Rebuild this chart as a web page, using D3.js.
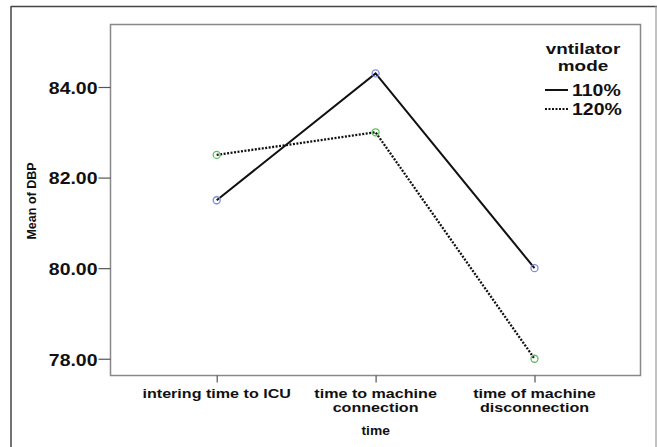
<!DOCTYPE html>
<html><head><meta charset="utf-8">
<script src="https://cdn.jsdelivr.net/npm/d3@7"></script>
<style>body{margin:0;background:#fff}svg{display:block}text{font-family:"Liberation Sans",Arial,sans-serif;font-weight:bold;fill:#111}</style>
</head><body><svg id="c" width="657" height="447"></svg>
<script>
const categories = ["intering time to ICU", "time to machine\nconnection", "time of machine\ndisconnection"];
const seriesNames = ["110%", "120%"];
const values110 = [81.5, 84.3, 80.0];
const values120 = [82.5, 83.0, 78.0];
const yTicks = [78, 80, 82, 84];

const svg = d3.select("#c");
const W = 657, H = 447;
const m = {l:110.5, t:24.5, r:640.5, b:375.5};
const SX = 1.18;

function stext(x, y, anchor, size, txt, sx) {
  return svg.append("text").attr("transform", `translate(${x},${y}) scale(${sx},1)`)
    .attr("text-anchor", anchor).style("font-size", size + "px").text(txt);
}

// outer frame
svg.append("line").attr("x1",11).attr("x2",11).attr("y1",6).attr("y2",H).attr("stroke","#444").attr("stroke-width",1.5);
svg.append("line").attr("x1",11).attr("x2",W).attr("y1",6.5).attr("y2",6.5).attr("stroke","#444").attr("stroke-width",1.5);
svg.append("line").attr("x1",656).attr("x2",656).attr("y1",6).attr("y2",H).attr("stroke","#999").attr("stroke-width",1.2);

const x = d3.scalePoint().domain(categories).range([216.7, 534.5]);
const y = d3.scaleLinear().domain([77.63, 85.38]).range([m.b, m.t]);

// plot frame
svg.append("rect").attr("x",m.l).attr("y",m.t).attr("width",m.r-m.l).attr("height",m.b-m.t)
  .attr("fill","none").attr("stroke","#888").attr("stroke-width",1.5);

// y axis
const ya = svg.append("g").attr("transform",`translate(${m.l},0)`)
  .call(d3.axisLeft(y).tickValues(yTicks).tickFormat(d3.format(".2f")).tickSize(12).tickPadding(1));
ya.select(".domain").remove();
ya.selectAll("line").attr("stroke","#555").attr("stroke-width",1.2);
ya.selectAll("text").style("font-size","16.5px").attr("fill","#111")
  .attr("transform",`scale(${SX},1)`).attr("x", -13/SX).attr("dy","0.38em");

// x axis
const xa = svg.append("g").attr("transform",`translate(0,${m.b})`)
  .call(d3.axisBottom(x).tickSize(7).tickFormat(""));
xa.select(".domain").remove();
xa.selectAll("line").attr("stroke","#555").attr("stroke-width",1.2);
categories.forEach(c => {
  c.split("\n").forEach((l,i) => stext(x(c), 398 + i*14, "middle", 13, l, 1.24));
});
stext(375.7, 434.5, "middle", 12, "time", 1.15);
svg.append("text").attr("transform","translate(36,201) rotate(-90)").attr("text-anchor","middle").style("font-size","12.5px").text("Mean of DBP");

// lines
const line = d3.line().x((d,i)=>x(categories[i])).y(d=>y(d));
svg.append("path").datum(values110).attr("d",line).attr("fill","none").attr("stroke","#111").attr("stroke-width",2);
svg.append("path").datum(values120).attr("d",line).attr("fill","none").attr("stroke","#111").attr("stroke-width",2.3).attr("stroke-dasharray","2,1.5");

// markers
const mk = [[values110,"#7b8be0"],[values120,"#5dbf5d"]];
mk.forEach(([vals,col]) => {
  svg.selectAll(null).data(vals).enter().append("circle")
    .attr("cx",(d,i)=>x(categories[i])).attr("cy",d=>y(d)).attr("r",3.5)
    .attr("fill","none").attr("stroke",col).attr("stroke-width",1.3);
});

// legend
stext(583, 54, "middle", 15, "vntilator", 1.26);
stext(583, 70.5, "middle", 15, "mode", 1.26);
seriesNames.forEach((s,i) => {
  const yy = 90 + i*19;
  svg.append("line").attr("x1",545).attr("x2",568).attr("y1",yy).attr("y2",yy).attr("stroke","#111")
    .attr("stroke-width",2).attr("stroke-dasharray", i===0?null:"2,1.5");
  stext(572, yy+6, "start", 16.5, s, SX);
});
</script></body></html>
